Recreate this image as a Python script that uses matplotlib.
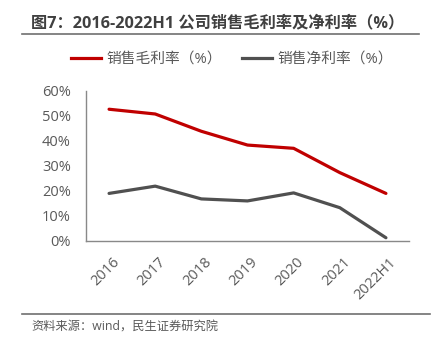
import matplotlib
matplotlib.use("Agg")
import matplotlib.pyplot as plt
from matplotlib.lines import Line2D
import matplotlib.transforms as mtransforms

plt.rcParams['font.family'] = ['Open Sans', 'Noto Sans CJK SC', 'DejaVu Sans']

categories = ["2016", "2017", "2018", "2019", "2020", "2021", "2022H1"]
gross_margin = [52.6, 50.7, 43.8, 38.3, 37.0, 27.3, 19.0]
net_margin = [19.0, 21.9, 16.8, 16.0, 19.2, 13.3, 1.3]
yticks = [0, 10, 20, 30, 40, 50, 60]
series_names = ["销售毛利率（%）", "销售净利率（%）"]

fig = plt.figure(figsize=(4.37, 3.45), dpi=100)
ax = fig.add_axes([86/437, 1-241/345, (409-86)/437, (241-90.7)/345])

x = list(range(len(categories)))
ax.plot(x, gross_margin, color="#C00000", lw=2.3, solid_capstyle="round")
ax.plot(x, net_margin, color="#505050", lw=2.3, solid_capstyle="round")

ax.set_xlim(-0.5, len(categories) - 0.5)
ax.set_ylim(0, 60)
ax.set_yticks(yticks)
ax.set_yticklabels([f"{v}%" for v in yticks])
ax.set_xticks(x)
ax.set_xticklabels(categories, rotation=45, ha="right", va="top", rotation_mode="anchor")
ax.tick_params(length=0, colors="#595959", labelsize=10.5)
ax.tick_params(axis="x", pad=10)
ax.tick_params(axis="y", pad=11)
offset = mtransforms.ScaledTranslation(3/100, 0, fig.dpi_scale_trans)
for lab in ax.get_xticklabels():
    lab.set_transform(lab.get_transform() + offset)
for s in ["top", "right"]:
    ax.spines[s].set_visible(False)
for s in ["left", "bottom"]:
    ax.spines[s].set_color("#898989")
    ax.spines[s].set_linewidth(1.0)

# title
fig.text(31/437, 1-23/345, "图7：2016-2022H1 公司销售毛利率及净利率（%）", fontsize=11.7,
         fontweight="bold", color="#404040", va="center", ha="left")
fig.add_artist(Line2D([22/437, 419/437], [1-33.5/345, 1-33.5/345], color="#707070", lw=1.2))

# legend
handles = [Line2D([], [], color="#C00000", lw=2.3), Line2D([], [], color="#505050", lw=2.3)]
fig.legend(handles, series_names, loc="center", bbox_to_anchor=(232/437, 1-60/345),
           ncol=2, frameon=False, fontsize=10.6, handlelength=2.05, handletextpad=0.35,
           columnspacing=1.4, labelcolor="#595959")

# footer
fig.add_artist(Line2D([22/437, 430/437], [1-314/345, 1-314/345], color="#707070", lw=1.2))
fig.text(31/437, 1-327/345, "资料来源：wind，民生证券研究院", fontsize=8.8, color="#595959",
         va="center", ha="left")

fig.savefig("out.png", dpi=100)
